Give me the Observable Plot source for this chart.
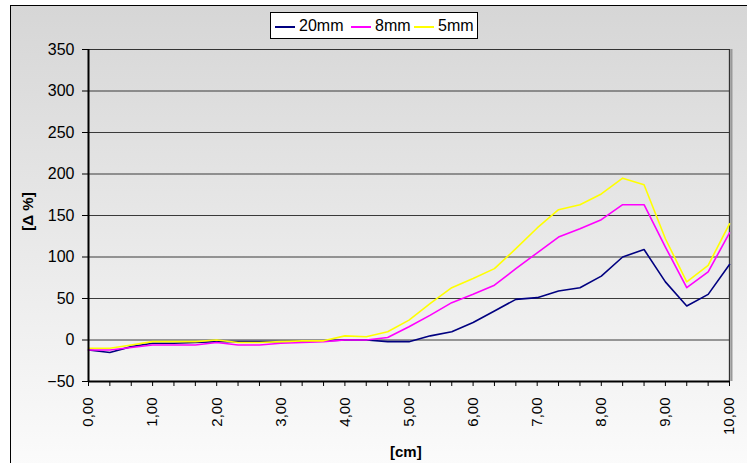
<!DOCTYPE html>
<html>
<head>
<meta charset="utf-8">
<script src="https://cdn.jsdelivr.net/npm/d3@7"></script>
<script src="https://cdn.jsdelivr.net/npm/@observablehq/plot@0.6"></script>
<style>
  html, body { margin: 0; padding: 0; background: #fff; }
  #wrap { position: relative; width: 747px; height: 463px; overflow: hidden; font-family: "Liberation Sans", Arial, sans-serif; }
  #bg { position: absolute; left: 10px; top: 5px; width: 800px; height: 500px; border: 1px solid #000;
        background: linear-gradient(to bottom, #d6d6d6 0px, #fbfbfb 460px); }
  #chart { position: absolute; left: 0; top: 0; }
  #legend { position: absolute; left: 270px; top: 12px; width: 206px; height: 25px; background: #fff; border: 1px solid #000;
            font-size: 16px; line-height: 25px; white-space: nowrap; }
  #legend span.sw { display: inline-block; width: 20px; height: 2px; vertical-align: middle; margin-right: 4px; }
  #legend span.it { position: absolute; top: 0; }
  .ttl { position: absolute; font-weight: bold; font-size: 15px; }
</style>
</head>
<body>
<div id="wrap">
  <div id="bg"></div>
  <div id="chart"></div>
  <div id="legend"></div>
  <div class="ttl" id="xt">[cm]</div>
  <div class="ttl" id="yt">[Δ %]</div>
</div>
<script>
const cm = [0, 0.333, 0.667, 1, 1.333, 1.667, 2, 2.333, 2.667, 3, 3.333, 3.667, 4, 4.333, 4.667, 5,
            5.333, 5.667, 6, 6.333, 6.667, 7, 7.333, 7.667, 8, 8.333, 8.667, 9, 9.333, 9.667, 10];
const s20mm = [-12, -15, -8, -4, -4, -3, -2, -2, -2, -2, -1, -1, 0, 0, -2, -2, 5, 10, 21, 35, 49, 51, 59, 63, 77, 100, 109, 70, 41, 55, 91];
const s8mm  = [-12, -12, -9, -6, -6, -6, -3, -6, -6, -4, -3, -2, 0, 0, 3, 16, 30, 45, 55, 66, 86, 105, 124, 134, 145, 163, 163, 112, 63, 82, 129];
const s5mm  = [-10, -10, -6, -2, -2, -2, 0, -3, -3, -2, -1, -1, 5, 4, 10, 24, 44, 63, 74, 86, 110, 135, 157, 163, 176, 195, 187, 122, 70, 90, 140];
const seriesNames = ["20mm", "8mm", "5mm"];
const seriesColors = ["#000080", "#ff00ff", "#ffff00"];
const xTickValues = [0, 1, 2, 3, 4, 5, 6, 7, 8, 9, 10];
const xTickLabels = ["0,00", "1,00", "2,00", "3,00", "4,00", "5,00", "6,00", "7,00", "8,00", "9,00", "10,00"];
const yTicks = [-50, 0, 50, 100, 150, 200, 250, 300, 350];
const yGrid = [0, 50, 100, 150, 200, 250, 300];

const allSeries = [s20mm, s8mm, s5mm];
const rows = [];
allSeries.forEach((arr, k) => arr.forEach((v, i) => rows.push({x: cm[i], y: v, s: seriesNames[k]})));

const chart = Plot.plot({
  width: 747, height: 463,
  marginLeft: 88, marginRight: 18, marginTop: 49, marginBottom: 82,
  style: {background: "transparent", fontFamily: "Liberation Sans, Arial, sans-serif", fontSize: "15px", color: "#000"},
  x: {domain: [0, 10], axis: null},
  y: {domain: [-50, 350], axis: null},
  color: {domain: seriesNames, range: seriesColors},
  marks: [
    Plot.ruleY(yGrid, {stroke: "#3a3a3a", strokeWidth: 1}),
    Plot.ruleY([350], {stroke: "#333", strokeWidth: 1}),
    Plot.ruleX([10], {stroke: "#999", strokeWidth: 2, dx: 2}),
    Plot.ruleX([10], {stroke: "#333", strokeWidth: 1.3}),
    ...seriesNames.map(n => Plot.line(rows.filter(r => r.s === n), {x: "x", y: "y", stroke: "s", strokeWidth: 1.6})),
    Plot.ruleX([0], {stroke: "#000", strokeWidth: 2}),
    Plot.ruleY([-50], {stroke: "#000", strokeWidth: 2}),
    Plot.axisY({ticks: yTicks, tickSize: 6, tickPadding: 8, fontSize: 16, label: null, stroke: "#000"}),
    Plot.axisX({ticks: cm, tickSize: 5, tickFormat: () => "", label: null, stroke: "#000"}),
    Plot.text(xTickValues, {x: d => d, frameAnchor: "bottom", dy: 16, rotate: -90, textAnchor: "end", lineAnchor: "middle",
      text: (d, i) => xTickLabels[i], fontSize: 15, fill: "#000"})
  ]
});
document.getElementById("chart").appendChild(chart);

const leg = document.getElementById("legend");
const legX = [4, 80, 143];
seriesNames.forEach((n, k) => {
  const it = document.createElement("span");
  it.className = "it";
  it.style.left = legX[k] + "px";
  it.innerHTML = `<span class="sw" style="background:${seriesColors[k]}"></span>${n}`;
  leg.appendChild(it);
});

const xt = document.getElementById("xt");
xt.style.left = "390px"; xt.style.top = "443px";
const yt = document.getElementById("yt");
yt.style.left = "8px"; yt.style.top = "203px"; yt.style.transform = "rotate(-90deg)";
</script>
</body>
</html>
